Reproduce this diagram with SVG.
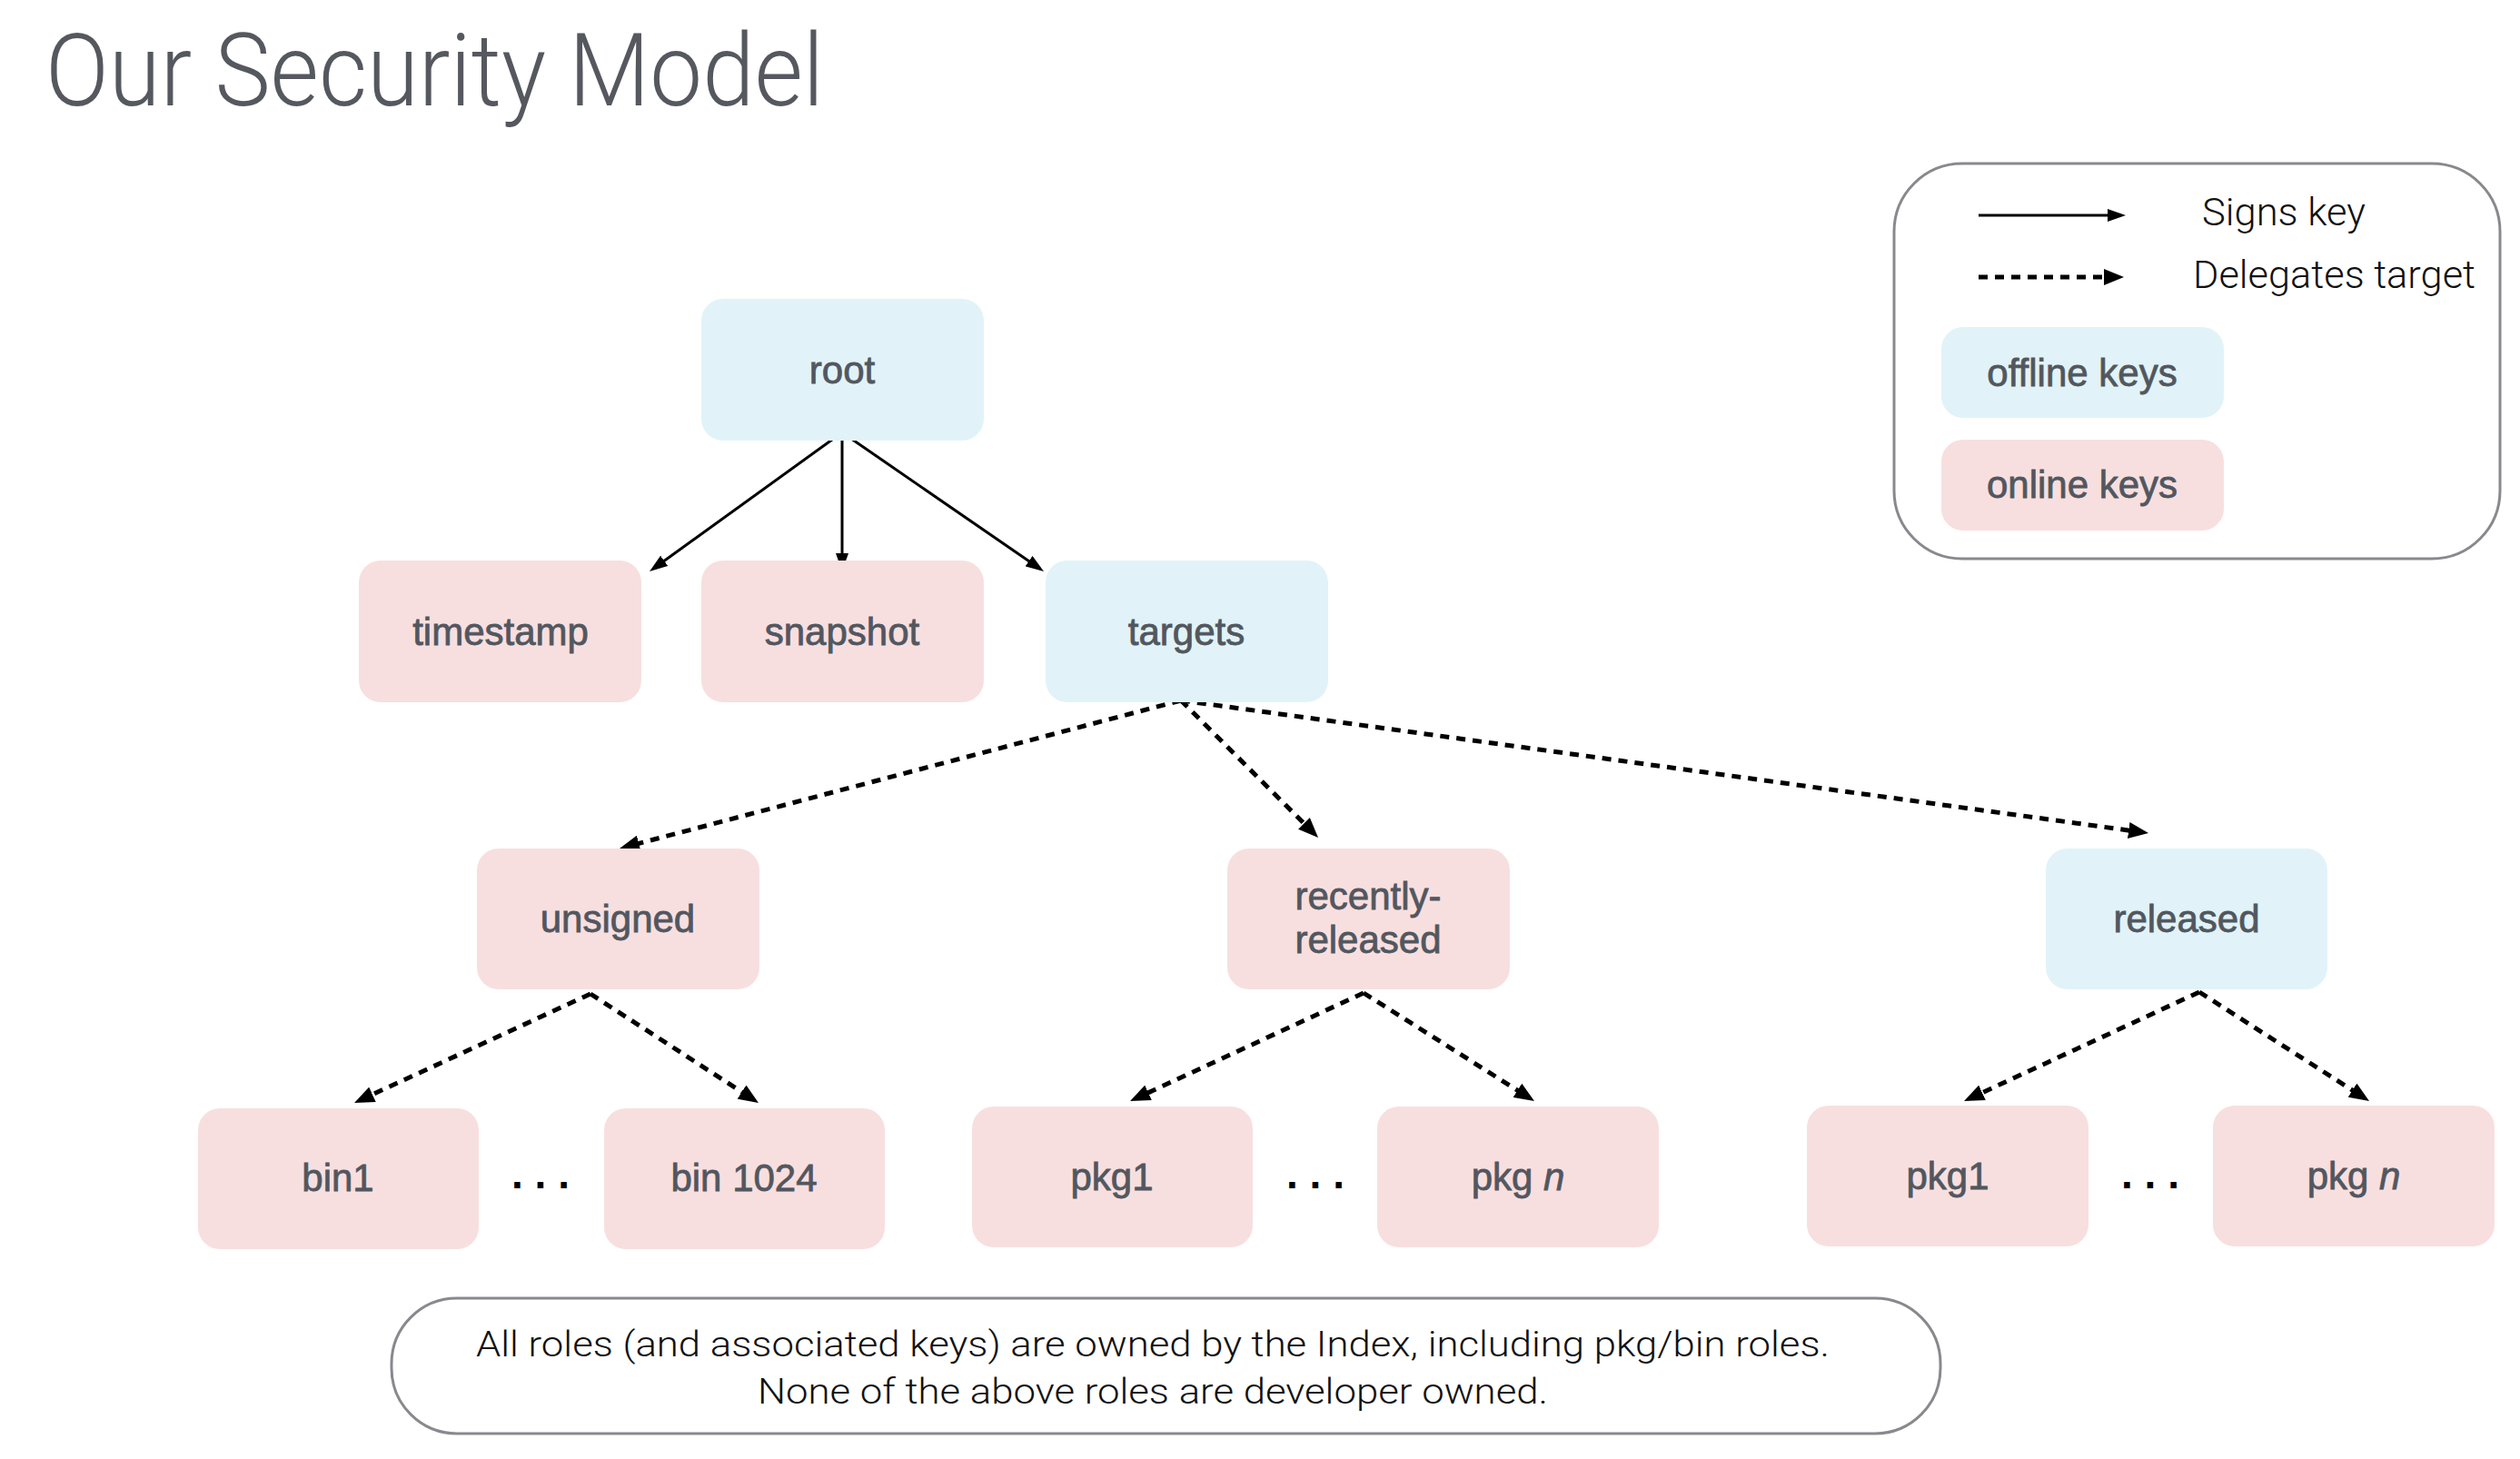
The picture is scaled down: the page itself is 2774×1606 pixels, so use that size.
<svg xmlns="http://www.w3.org/2000/svg" width="2774" height="1606" viewBox="0 0 2774 1606">
  <style>
    .bg { fill: #ffffff; }
    .on { fill: #f8dfdf; }
    .off { fill: #e1f3f8; }
    .lbl { font-family: "Liberation Sans", Arial, sans-serif; font-size: 42px; fill: #52575f; stroke: #52575f; stroke-width: 0.8px; text-anchor: middle; }
    .title { font-family: Roboto, "Liberation Sans", sans-serif; font-weight: 300; font-size: 112px; fill: #55585e; }
    .note { font-family: Roboto, "Liberation Sans", sans-serif; font-weight: 300; font-size: 39px; fill: #111111; text-anchor: middle; }
    .key { font-family: Roboto, "Liberation Sans", sans-serif; font-weight: 300; font-size: 42px; fill: #111111; }
    .frame { fill: none; stroke: #88898d; stroke-width: 3px; }
    .solid { fill: none; stroke: #000; stroke-width: 3px; }
    .dash { fill: none; stroke: #000; stroke-width: 5px; stroke-dasharray: 10 8; }
    .dots { font-family: "Liberation Sans", Arial, sans-serif; font-weight: bold; font-size: 46px; fill: #000; text-anchor: middle; }
  </style>
  <defs>
    <marker id="hs" markerUnits="userSpaceOnUse" markerWidth="20" markerHeight="14" refX="2" refY="7" orient="auto">
      <path d="M0,0 L20,7 L0,14 z" fill="#000"/>
    </marker>
    <marker id="hd" markerUnits="userSpaceOnUse" markerWidth="22" markerHeight="18" refX="2" refY="9" orient="auto">
      <path d="M0,0 L22,9 L0,18 z" fill="#000"/>
    </marker>
  </defs>
  <rect class="bg" x="0" y="0" width="2774" height="1606"/>

  <text class="title" x="50" y="116" textLength="857" lengthAdjust="spacingAndGlyphs">Our Security Model</text>

  <g id="legend">
    <rect class="frame" x="2085" y="180" width="667" height="435" rx="75" ry="75"/>
    <path class="solid" d="M2178,237 L2322,237" marker-end="url(#hs)"/>
    <path class="dash" d="M2178,305 L2318,305" marker-end="url(#hd)"/>
    <text class="key" x="2424" y="248" textLength="180" lengthAdjust="spacingAndGlyphs">Signs key</text>
    <text class="key" x="2414" y="317" textLength="311" lengthAdjust="spacingAndGlyphs">Delegates target</text>
    <rect class="off" x="2137" y="360" width="311" height="100" rx="24"/>
    <text class="lbl" x="2292" y="425">offline keys</text>
    <rect class="on" x="2137" y="484" width="311" height="100" rx="24"/>
    <text class="lbl" x="2292" y="548">online keys</text>
  </g>

  <g id="connectors">
    <path class="solid" d="M927,476 L729.6,618.5" marker-end="url(#hs)"/>
    <path class="solid" d="M927,476 L927,611" marker-end="url(#hs)"/>
    <path class="solid" d="M927,476 L1134.2,618.8" marker-end="url(#hs)"/>
    <path class="dash" d="M1300,771 L701.3,928.9" marker-end="url(#hd)"/>
    <path class="dash" d="M1300,771 L1436.9,907.9" marker-end="url(#hd)"/>
    <path class="dash" d="M1300,771 L2345.2,914.3" marker-end="url(#hd)"/>
    <path class="dash" d="M650,1094 L408.2,1205.6" marker-end="url(#hd)"/>
    <path class="dash" d="M650,1094 L818.2,1203.1" marker-end="url(#hd)"/>
    <path class="dash" d="M1501,1093 L1262.2,1203.6" marker-end="url(#hd)"/>
    <path class="dash" d="M1501,1093 L1672.1,1201.3" marker-end="url(#hd)"/>
    <path class="dash" d="M2421,1092 L2180.2,1203.6" marker-end="url(#hd)"/>
    <path class="dash" d="M2421,1092 L2591.2,1201.2" marker-end="url(#hd)"/>
  </g>

  <g id="root">
    <rect class="off" x="772" y="329" width="311" height="156" rx="24"/>
    <text class="lbl" x="927" y="422">root</text>
  </g>
  <g id="timestamp">
    <rect class="on" x="395" y="617" width="311" height="156" rx="24"/>
    <text class="lbl" x="551" y="710">timestamp</text>
  </g>
  <g id="snapshot">
    <rect class="on" x="772" y="617" width="311" height="156" rx="24"/>
    <text class="lbl" x="927" y="710">snapshot</text>
  </g>
  <g id="targets">
    <rect class="off" x="1151" y="617" width="311" height="156" rx="24"/>
    <text class="lbl" x="1306" y="710">targets</text>
  </g>
  <g id="unsigned">
    <rect class="on" x="525" y="934" width="311" height="155" rx="24"/>
    <text class="lbl" x="680" y="1026">unsigned</text>
  </g>
  <g id="recently-released">
    <rect class="on" x="1351" y="934" width="311" height="155" rx="24"/>
    <text class="lbl" x="1506" y="1001">recently-</text>
    <text class="lbl" x="1506" y="1049">released</text>
  </g>
  <g id="released">
    <rect class="off" x="2252" y="934" width="310" height="155" rx="24"/>
    <text class="lbl" x="2407" y="1026">released</text>
  </g>
  <g id="bin1">
    <rect class="on" x="218" y="1220" width="309" height="155" rx="24"/>
    <text class="lbl" x="372" y="1311">bin1</text>
  </g>
  <text class="dots" x="595" y="1308">. . .</text>
  <g id="bin1024">
    <rect class="on" x="665" y="1220" width="309" height="155" rx="24"/>
    <text class="lbl" x="819" y="1311">bin 1024</text>
  </g>
  <g id="pkg1-a">
    <rect class="on" x="1070" y="1218" width="309" height="155" rx="24"/>
    <text class="lbl" x="1224" y="1310">pkg1</text>
  </g>
  <text class="dots" x="1448" y="1308">. . .</text>
  <g id="pkgn-a">
    <rect class="on" x="1516" y="1218" width="310" height="155" rx="24"/>
    <text class="lbl" x="1671" y="1310">pkg <tspan font-style="italic">n</tspan></text>
  </g>
  <g id="pkg1-b">
    <rect class="on" x="1989" y="1217" width="310" height="155" rx="24"/>
    <text class="lbl" x="2144" y="1309">pkg1</text>
  </g>
  <text class="dots" x="2367" y="1308">. . .</text>
  <g id="pkgn-b">
    <rect class="on" x="2436" y="1217" width="310" height="155" rx="24"/>
    <text class="lbl" x="2591" y="1309">pkg <tspan font-style="italic">n</tspan></text>
  </g>

  <g id="note">
    <rect class="frame" x="431" y="1429" width="1705" height="149" rx="72" ry="72"/>
    <text class="note" x="1269" y="1493" textLength="1490" lengthAdjust="spacingAndGlyphs">All roles (and associated keys) are owned by the Index, including pkg/bin roles.</text>
    <text class="note" x="1269" y="1545" textLength="870" lengthAdjust="spacingAndGlyphs">None of the above roles are developer owned.</text>
  </g>
</svg>
